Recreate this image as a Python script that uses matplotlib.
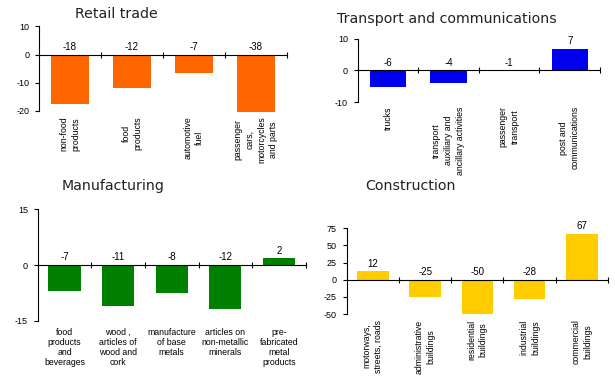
import matplotlib
matplotlib.use("Agg")
import matplotlib.pyplot as plt

plt.rcParams["font.family"] = ["Liberation Sans", "DejaVu Sans"]
plt.rcParams["axes.unicode_minus"] = False

# Retail trade
retail_cats = ["non-food\nproducts", "food\nproducts", "automotive\nfuel",
               "passenger\ncars,\nmotorcycles\nand parts"]
retail_bars = [-17.5, -12, -6.5, -20.5]
retail_labels = ["-18", "-12", "-7", "-38"]

# Transport and communications
transport_cats = ["trucks", "transport\nauxiliary and\nancillary activities",
                  "passenger\ntransport", "post and\ncommunications"]
transport_bars = [-5.2, -4, 0, 6.8]
transport_labels = ["-6", "-4", "-1", "7"]

# Manufacturing
manuf_cats = ["food\nproducts\nand\nbeverages", "wood ,\narticles of\nwood and\ncork",
              "manufacture\nof base\nmetals", "articles on\nnon-metallic\nminerals",
              "pre-\nfabricated\nmetal\nproducts"]
manuf_bars = [-7, -11, -7.6, -11.7, 1.8]
manuf_labels = ["-7", "-11", "-8", "-12", "2"]

# Construction
constr_cats = ["motorways,\nstreets, roads", "administrative\nbuildings",
               "residential\nbuildings", "industrial\nbuildings", "commercial\nbuildings"]
constr_bars = [12.2, -24.6, -50, -28.5, 66.6]
constr_labels = ["12", "-25", "-50", "-28", "67"]

W, H = 615, 380
fig = plt.figure(figsize=(W / 100, H / 100), dpi=100)


def px_axes(x0, y0, x1, y1):
    return fig.add_axes([x0 / W, 1 - y1 / H, (x1 - x0) / W, (y1 - y0) / H])


def panel(ax, cats, bars, labels, color, ylim, yticks, rotate, lab_off):
    n = len(cats)
    x = list(range(n))
    ax.bar(x, bars, width=0.6, color=color, zorder=2, clip_on=False)
    ax.set_xlim(-0.5, n - 0.5)
    ax.set_ylim(*ylim)
    ax.set_yticks(yticks)
    ax.tick_params(axis="y", direction="out", length=3, width=0.8,
                   labelsize=6.5, pad=4)
    for s in ["top", "right"]:
        ax.spines[s].set_visible(False)
    ax.spines["bottom"].set_position(("data", 0))
    ax.spines["bottom"].set_zorder(3)
    ax.set_xticks([i + 0.5 for i in range(n)])
    ax.set_xticklabels([])
    ax.tick_params(axis="x", direction="inout", length=5, width=0.8)
    for i in range(n):
        ax.annotate(labels[i], xy=(i, max(bars[i], 0)), xytext=(0, 2),
                    textcoords="offset points", ha="center", va="bottom",
                    fontsize=7)
        if rotate:
            ax.annotate(cats[i], xy=(i, 0), xycoords=("data", "axes fraction"),
                        xytext=(0, -lab_off), textcoords="offset points",
                        rotation=90, ha="center", va="top", fontsize=6.3,
                        linespacing=1.4, multialignment="center")
        else:
            ax.annotate(cats[i], xy=(i, 0), xycoords=("data", "axes fraction"),
                        xytext=(0, -lab_off), textcoords="offset points",
                        ha="center", va="top", fontsize=6.3,
                        linespacing=1.15, multialignment="center")


title_kw = dict(fontsize=10.2, family="DejaVu Sans", va="center", ha="left",
                color="#222222")

ax1 = px_axes(39, 26.3, 287, 111)
panel(ax1, retail_cats, retail_bars, retail_labels, "#FF6600",
      (-20, 10), [-20, -10, 0, 10], True, 4)
fig.text(75 / W, 1 - 14 / H, "Retail trade", **title_kw)

ax2 = px_axes(357.7, 38.7, 600, 102)
panel(ax2, transport_cats, transport_bars, transport_labels, "#0000F0",
      (-10, 10), [-10, 0, 10], True, 3)
fig.text(337 / W, 1 - 19 / H, "Transport and communications", **title_kw)

ax3 = px_axes(37.7, 209.3, 305.7, 321)
panel(ax3, manuf_cats, manuf_bars, manuf_labels, "#007F00",
      (-15, 15), [-15, 0, 15], False, 5)
fig.text(62 / W, 1 - 186 / H, "Manufacturing", **title_kw)

ax4 = px_axes(346.7, 228.3, 608, 314)
panel(ax4, constr_cats, constr_bars, constr_labels, "#FFCC00",
      (-50, 75), [-50, -25, 0, 25, 50, 75], True, 4)
fig.text(365 / W, 1 - 186 / H, "Construction", **title_kw)

fig.savefig("out.png", dpi=100)
